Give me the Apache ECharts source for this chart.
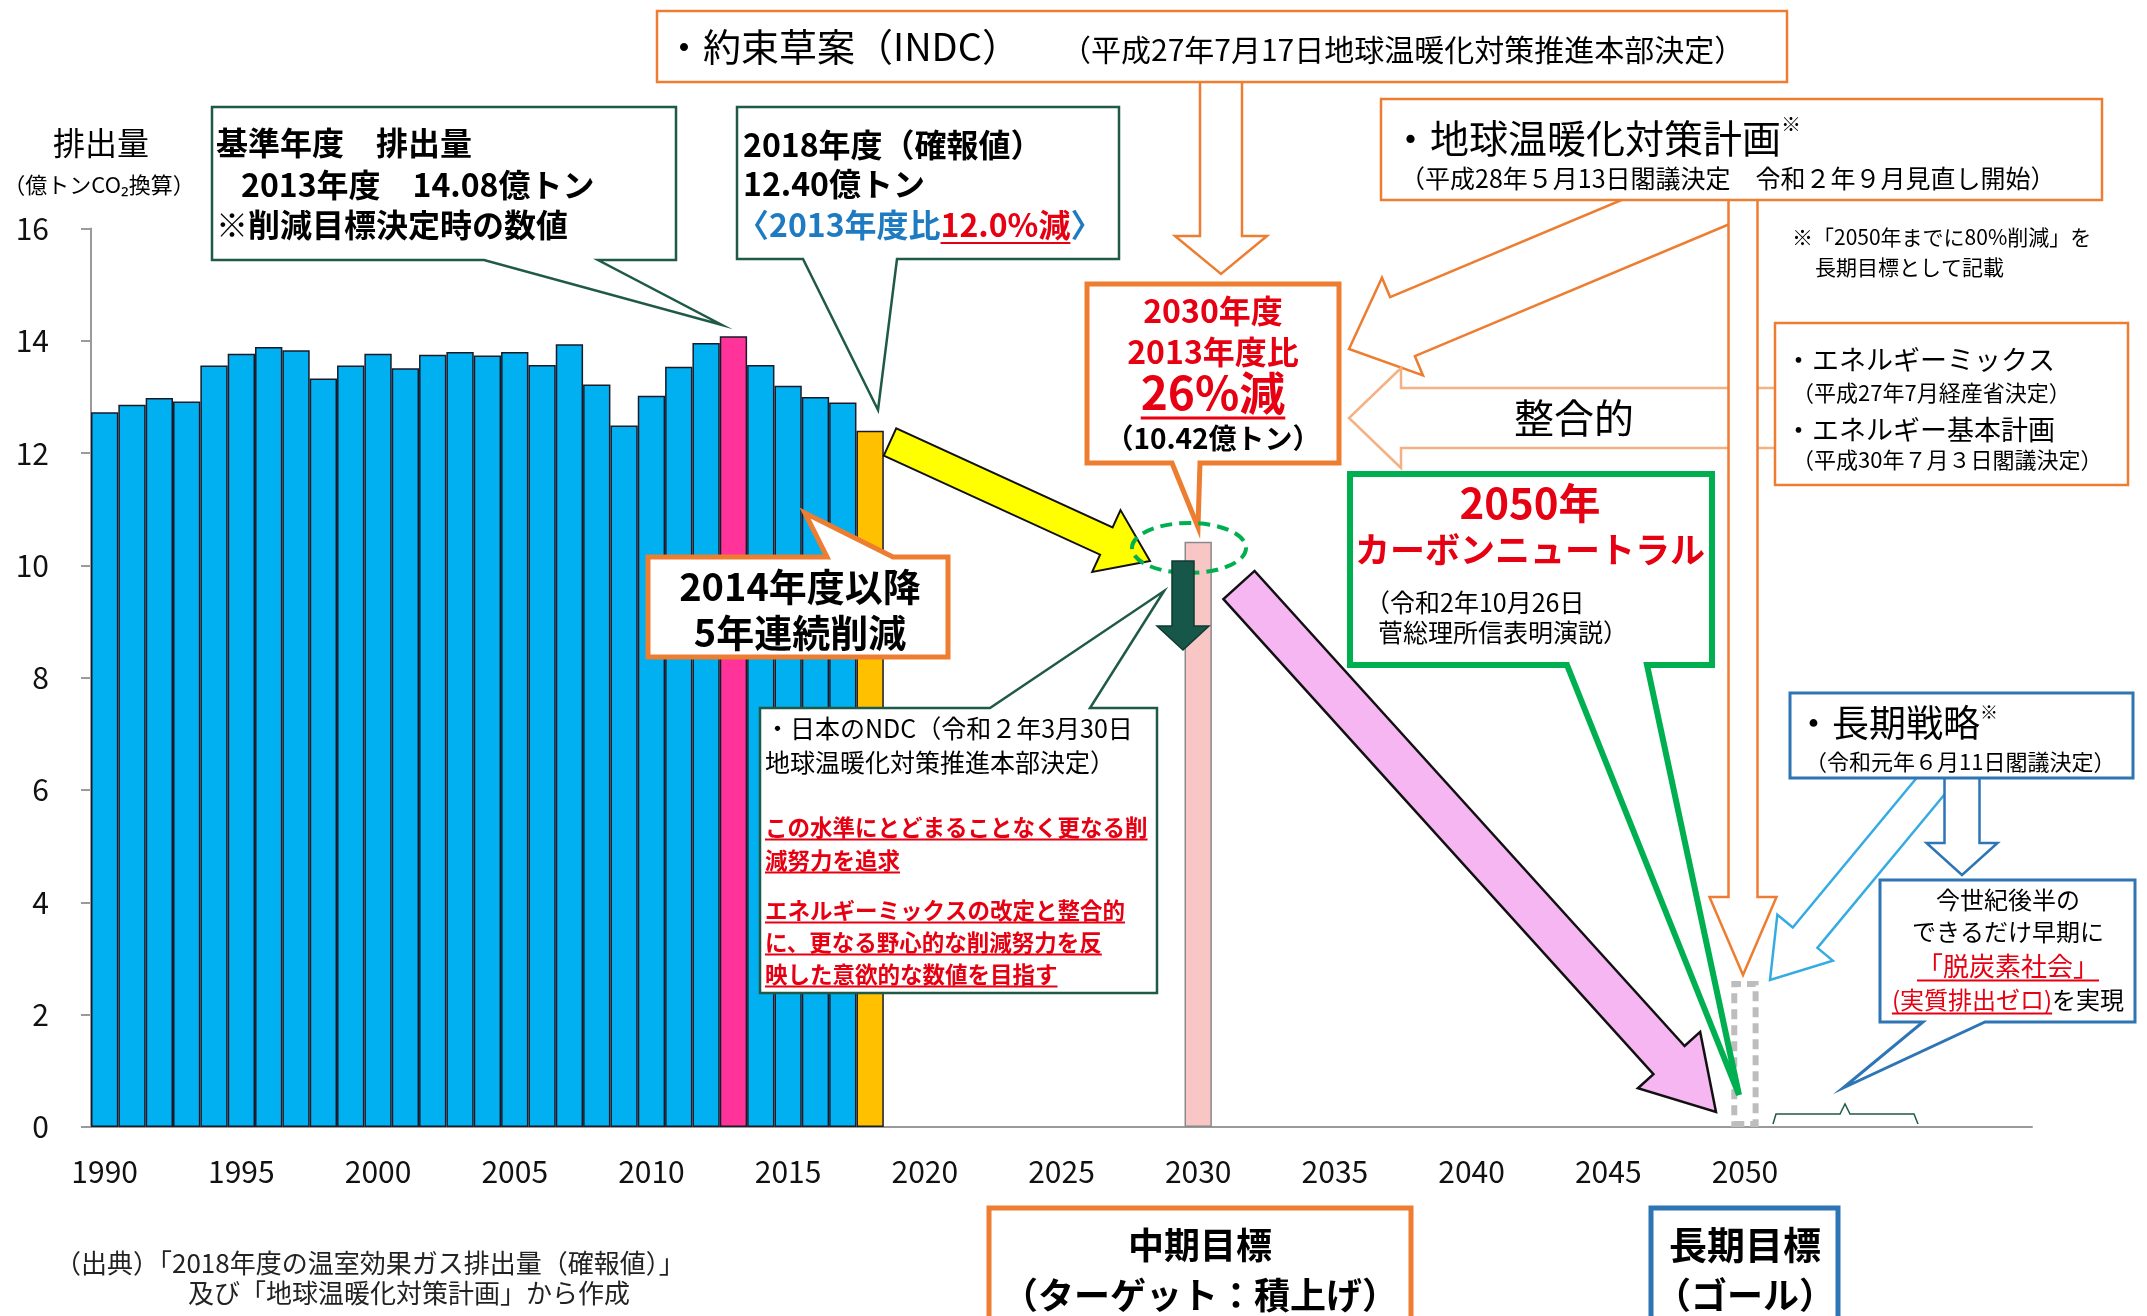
<!DOCTYPE html>
<html><head><meta charset="utf-8">
<script src="https://cdn.jsdelivr.net/npm/echarts@6.0.0/dist/echarts.min.js"></script>
<style>html,body{margin:0;padding:0;background:#fff}#c{width:2147px;height:1316px}</style>
</head><body><div id="c"></div><script>
// ---------- data ----------
const histYears = ['1990','1991','1992','1993','1994','1995','1996','1997','1998','1999','2000','2001','2002','2003','2004','2005','2006','2007','2008','2009','2010','2011','2012','2013','2014','2015','2016','2017','2018'];
const histValues = [12.73,12.86,12.98,12.92,13.56,13.77,13.89,13.83,13.33,13.56,13.77,13.51,13.75,13.80,13.74,13.80,13.57,13.94,13.22,12.49,13.02,13.54,13.96,14.08,13.57,13.20,13.00,12.90,12.40];
const baseYear = '2013';
const latestYear = '2018';
const targetYear = '2030';
const targetValue = 10.42;
const goalYear = '2050';
const goalValue = 2.6;
const xTickLabels = ['1990','1995','2000','2005','2010','2015','2020','2025','2030','2035','2040','2045','2050'];
const firstYear = 1990, lastYear = 2060;
const yMin = 0, yMax = 16, yStep = 2;

const categories = [];
for (let y = firstYear; y <= lastYear; y++) categories.push(String(y));

const F = '"Noto Sans CJK JP", "Noto Sans", sans-serif';
const OR = '#ED7D31', DG = '#1F5A48', GR = '#00B050', BL = '#2E75B6', LB = '#36ABE2', RED = '#E60012', BLU = '#1F7BC1';

const barData = categories.map(c => {
  const i = histYears.indexOf(c);
  if (i >= 0) return { value: histValues[i], itemStyle: { color: c === baseYear ? '#FF3399' : c === latestYear ? '#FFC000' : '#00B0F0' } };
  if (c === targetYear) return { value: targetValue, itemStyle: { color: '#F9C6C6', borderColor: '#8a8a8a' } };
  if (c === goalYear) return { value: goalValue, itemStyle: { color: '#fff', borderColor: '#BDBDBD', borderWidth: 6, borderType: [10, 6] } };
  return '-';
});

// ---------- annotation helpers ----------
const els = [];
let zc = 0;
function push(e) { e.z = 50; e.z2 = zc++; els.push(e); return e; }
function poly(points, fill, stroke, lw) { push({ type: 'polygon', shape: { points }, style: { fill, stroke, lineWidth: lw, lineJoin: 'miter' } }); }
function pline(points, stroke, lw) { push({ type: 'polyline', shape: { points }, style: { fill: null, stroke, lineWidth: lw } }); }
function arrow(tx, ty, hx, hy, sw, hw, hl, fill, stroke, lw) {
  const dx = hx - tx, dy = hy - ty, L = Math.hypot(dx, dy);
  const ux = dx / L, uy = dy / L, nx = -uy, ny = ux;
  const bx = hx - ux * hl, by = hy - uy * hl;
  const p = (x, y, k) => [x + nx * k, y + ny * k];
  poly([p(tx, ty, sw / 2), p(bx, by, sw / 2), p(bx, by, hw / 2), [hx, hy], p(bx, by, -hw / 2), p(bx, by, -sw / 2), p(tx, ty, -sw / 2)], fill, stroke, lw);
}
function box(x1, y1, x2, y2, stroke, lw, ptr) {
  let pts;
  if (!ptr) pts = [[x1, y1], [x2, y1], [x2, y2], [x1, y2]];
  else if (ptr.side === 'bottom') pts = [[x1, y1], [x2, y1], [x2, y2], [ptr.b, y2], [ptr.tx, ptr.ty], [ptr.a, y2], [x1, y2]];
  else pts = [[x1, y1], [ptr.a, y1], [ptr.tx, ptr.ty], [ptr.b, y1], [x2, y1], [x2, y2], [x1, y2]];
  poly(pts, '#fff', stroke, lw);
}
function txt(x, y, s, size, o) {
  o = o || {};
  push({ type: 'text', x, y, style: { text: s, fontSize: size, fontFamily: F, fontWeight: o.w || 'normal', fill: o.c || '#000', align: o.a || 'left', verticalAlign: 'middle' } });
}
const mctx = document.createElement('canvas').getContext('2d');
function mw(s, size, w) { mctx.font = (w || 'normal') + ' ' + size + 'px ' + F; return mctx.measureText(s).width; }
function ul(x, y, w, c, lw) { pline([[x, y], [x + w, y]], c, lw || 2); }
function runs(x, y, parts) { // parts: [text,size,weight,color,underline]
  let cx = x;
  parts.forEach(p => {
    const w = mw(p[0], p[1], p[2]);
    txt(cx, y, p[0], p[1], { w: p[2], c: p[3] });
    if (p[4]) ul(cx, y + p[1] * 0.56, w, p[3], 2);
    cx += w;
  });
}
function runsC(cx, y, parts) {
  const tot = parts.reduce((s, p) => s + mw(p[0], p[1], p[2]), 0);
  runs(cx - tot / 2, y, parts);
}

// ---------- annotations ----------
// y axis title
txt(101, 143, '排出量', 32, { a: 'center' });
txt(99, 185, '（億トンCO₂換算）', 22, { a: 'center' });

// base-year callout
box(212, 107, 676, 260, DG, 2.5, { side: 'bottom', a: 484, b: 598, tx: 722, ty: 325 });
txt(216, 143, '基準年度　排出量', 32, { w: 'bold' });
txt(241, 185, '2013年度　14.08億トン', 32, { w: 'bold' });
txt(216, 225, '※削減目標決定時の数値', 32, { w: 'bold' });

// 2018 callout
box(737, 107, 1119, 259, DG, 2.5, { side: 'bottom', a: 803, b: 897, tx: 878, ty: 410 });
txt(743, 145, '2018年度（確報値）', 32, { w: 'bold' });
txt(743, 184, '12.40億トン', 32, { w: 'bold' });
runs(737, 225, [['〈2013年度比', 32, 'bold', BLU, false], ['12.0%減', 32, 'bold', RED, true], ['〉', 32, 'bold', BLU, false]]);

// INDC
arrow(1221, 75, 1221, 274, 42, 92, 38, '#fff', OR, 2.5);
box(657, 11, 1787, 82, OR, 2.5);
txt(665, 47, '・約束草案（INDC）', 38);
txt(1061, 50, '（平成27年7月17日地球温暖化対策推進本部決定）', 30);

// plan / energy arrows
arrow(1740, 185, 1349, 349, 64, 106, 58, '#fff', OR, 2.5);
arrow(1790, 418, 1349, 418, 60, 100, 52, '#fff', '#F4B183', 2.5);
arrow(1743, 190, 1743, 975, 29, 67, 78, '#fff', OR, 2.5);
box(1381, 99, 2102, 200, OR, 2.5);
txt(1391, 138, '・地球温暖化対策計画', 39);
txt(1391 + mw('・地球温暖化対策計画', 39), 124, '※', 20);
txt(1400, 178, '（平成28年５月13日閣議決定　令和２年９月見直し開始）', 25);
txt(1792, 237, '※「2050年までに80%削減」を', 21);
txt(1815, 267, '長期目標として記載', 21);
box(1775, 323, 2128, 485, OR, 2.5);
txt(1785, 360, '・エネルギーミックス', 27);
txt(1792, 393, '（平成27年7月経産省決定）', 22);
txt(1785, 430, '・エネルギー基本計画', 27);
txt(1792, 460, '（平成30年７月３日閣議決定）', 22);
txt(1574, 418, '整合的', 40, { a: 'center' });

// 2030 target box
box(1087, 284, 1339, 463, OR, 5, { side: 'bottom', a: 1172, b: 1200, tx: 1198, ty: 527 });
txt(1213, 311, '2030年度', 32, { w: 'bold', c: RED, a: 'center' });
txt(1213, 352, '2013年度比', 32, { w: 'bold', c: RED, a: 'center' });
const w26 = mw('26%減', 46, 'bold');
txt(1213, 393, '26%減', 46, { w: 'bold', c: RED, a: 'center' });
ul(1213 - w26 / 2, 418, w26, RED, 3);
txt(1213, 438, '（10.42億トン）', 28, { w: 'bold', a: 'center' });

// arrows near 2030
arrow(890, 442, 1150, 561, 30, 68, 48, '#FFFF00', '#111', 2);
arrow(1239, 585, 1716, 1112, 42, 84, 70, '#F6B6F2', '#111', 2.5);
push({ type: 'ellipse', shape: { cx: 1189, cy: 548, rx: 57, ry: 25 }, style: { fill: 'none', stroke: GR, lineWidth: 4, lineDash: [12, 7] } });
arrow(1183, 561, 1183, 650, 22, 52, 24, '#17574A', '#0E3B31', 1.5);

// 2014 callout
box(648, 557, 948, 657, OR, 5, { side: 'top', a: 827, b: 893, tx: 805, ty: 513 });
txt(800, 587, '2014年度以降', 38, { w: 'bold', a: 'center' });
txt(800, 633, '5年連続削減', 38, { w: 'bold', a: 'center' });

// NDC box
box(760, 708, 1157, 993, DG, 2.5, { side: 'top', a: 990, b: 1090, tx: 1164, ty: 591 });
txt(765, 728, '・日本のNDC（令和２年3月30日', 25);
txt(765, 762, '地球温暖化対策推進本部決定）', 25);
[['この水準にとどまることなく更なる削', 827], ['減努力を追求', 860], ['エネルギーミックスの改定と整合的', 910], ['に、更なる野心的な削減努力を反', 942], ['映した意欲的な数値を目指す', 974]].forEach(r => runs(765, r[1], [[r[0], 22.5, 'bold', RED, true]]));

// 2050 carbon neutral callout
box(1350, 474, 1712, 665, GR, 6, { side: 'bottom', a: 1567, b: 1647, tx: 1739, ty: 1095 });
txt(1530, 503, '2050年', 42, { w: 'bold', c: RED, a: 'center' });
txt(1530, 550, 'カーボンニュートラル', 35, { w: 'bold', c: RED, a: 'center' });
txt(1365, 602, '（令和2年10月26日', 25);
txt(1378, 632, '菅総理所信表明演説）', 25);

// long-term strategy
arrow(1944, 770, 1770, 980, 32, 72, 55, '#fff', LB, 2.5);
arrow(1962, 770, 1962, 875, 35, 71, 32, '#fff', BL, 2.5);
box(1790, 693, 2133, 778, BL, 3);
txt(1795, 723, '・長期戦略', 37);
txt(1795 + mw('・長期戦略', 37), 712, '※', 18);
txt(1805, 762, '（令和元年６月11日閣議決定）', 22);
box(1880, 880, 2135, 1022, BL, 3, { side: 'bottom', a: 1923, b: 1985, tx: 1843, ty: 1088 });
txt(2008, 900, '今世紀後半の', 24, { a: 'center' });
txt(2008, 932, 'できるだけ早期に', 24, { a: 'center' });
runsC(2008, 966, [['「脱炭素社会」', 26, 'normal', RED, true]]);
runsC(2008, 1000, [['(実質排出ゼロ)', 24, 'normal', RED, true], ['を実現', 24, 'normal', '#000', false]]);
pline([[1773, 1124], [1776, 1114], [1840, 1114], [1845, 1104], [1850, 1114], [1914, 1114], [1918, 1124]], DG, 1.5);

// bottom boxes
box(989, 1208, 1411, 1330, OR, 5);
txt(1200, 1245, '中期目標', 36, { w: 'bold', a: 'center' });
txt(1200, 1295, '（ターゲット：積上げ）', 36, { w: 'bold', a: 'center' });
box(1651, 1208, 1838, 1330, BL, 5);
txt(1745, 1245, '長期目標', 38, { w: 'bold', a: 'center' });
txt(1745, 1295, '（ゴール）', 36, { w: 'bold', a: 'center' });

// source note
txt(55, 1263, '（出典）「2018年度の温室効果ガス排出量（確報値）」', 26, { c: '#222' });
txt(188, 1293, '及び「地球温暖化対策計画」から作成', 26, { c: '#222' });

// ---------- chart ----------
const chart = echarts.init(document.getElementById('c'), null, { renderer: 'canvas' });
chart.setOption({
  animation: false,
  backgroundColor: '#fff',
  grid: { left: 91, right: 115, top: 228.5, bottom: 189, containLabel: false },
  xAxis: {
    type: 'category', data: categories, boundaryGap: true,
    axisLine: { lineStyle: { color: '#9a9a9a', width: 2 } },
    axisTick: { show: false },
    axisLabel: { interval: 0, formatter: v => xTickLabels.includes(v) ? v : '', fontSize: 30, color: '#111', margin: 30, fontFamily: F }
  },
  yAxis: {
    type: 'value', min: yMin, max: yMax, interval: yStep,
    axisLine: { show: true, lineStyle: { color: '#9a9a9a', width: 2 } },
    axisTick: { show: true, length: 10, lineStyle: { color: '#9a9a9a', width: 2 } },
    splitLine: { show: false },
    axisLabel: { fontSize: 30, color: '#111', margin: 42, fontFamily: F }
  },
  series: [{ type: 'bar', data: barData, barCategoryGap: '0%', itemStyle: { borderColor: '#1a1a2a', borderWidth: 1.5 }, z: 2 }],
  graphic: { elements: els }
});
</script></body></html>
